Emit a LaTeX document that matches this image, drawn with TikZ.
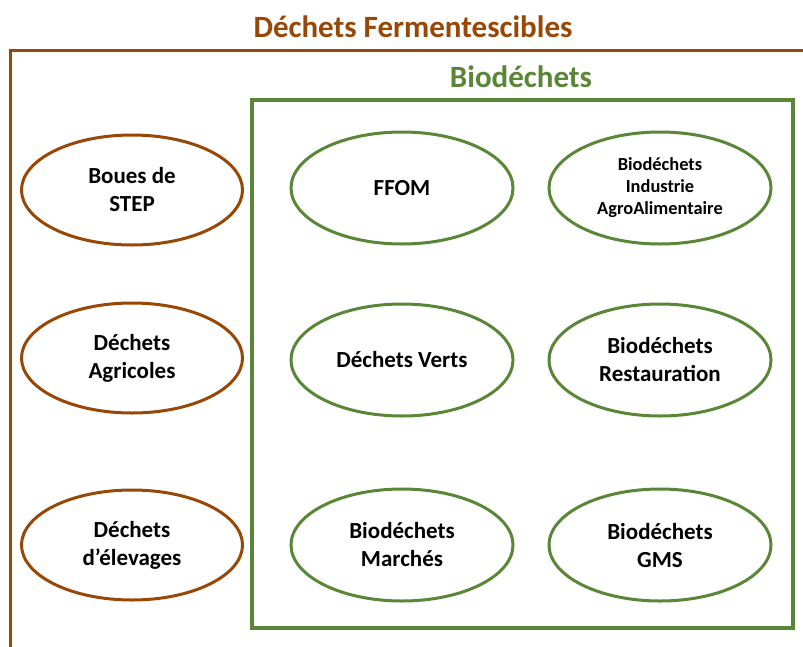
\documentclass[tikz,border=0pt]{standalone}
\usepackage{fontspec}
\setmainfont{Carlito}
\usetikzlibrary{shapes.geometric}
\definecolor{fermbrown}{RGB}{151,71,6}
\definecolor{biogreen}{RGB}{90,135,55}
\begin{document}
\begin{tikzpicture}[x=1pt, y=1pt, node distance=258pt]
  % Define styles
  \tikzstyle{brownell} = [ellipse, draw=fermbrown, line width=3pt, minimum width=221pt, minimum height=110pt, inner sep=0pt, align=center, font=\fontsize{23}{28}\selectfont\bfseries]
  \tikzstyle{greenell} = [brownell, draw=biogreen, minimum width=222pt, minimum height=112pt]
  \tikzstyle{titletext} = [font=\fontsize{31}{34}\selectfont\bfseries]

  \useasboundingbox (0,0) rectangle (803,-646);
  \clip (0,0) rectangle (803,-646);

  % Frames
  \draw [fermbrown, line width=3pt] (815,-50) -- (10,-50) -- (10,-660);
  \draw [biogreen, line width=3.2pt] (252,-100) rectangle (793,-628);
  \node [titletext, text=fermbrown] (ferm) at (413,-27) {Déchets Fermentescibles};
  \node [titletext, text=biogreen] (bio) at (521,-77) {Biodéchets};

  % Left column
  \node [brownell] (boues) at (132,-190) {Boues de\\STEP};
  \node [brownell, below of=boues, node distance=168pt] (agri) {Déchets\\Agricoles};
  \node [brownell, below of=agri, node distance=187pt] (elev) {Déchets\\d’élevages};

  % Middle column
  \node [greenell] (ffom) at (402,-188) {FFOM};
  \node [greenell, below of=ffom, node distance=172pt] (verts) {Déchets Verts};
  \node [greenell, below of=verts, node distance=185pt] (marches) {Biodéchets\\Marchés};

  % Right column
  \node [greenell, right of=ffom, font=\fontsize{18.4}{22}\selectfont\bfseries] (iaa) {Biodéchets\\Industrie\\AgroAlimentaire};
  \node [greenell, right of=verts] (resto) {Biodéchets\\Restauration};
  \node [greenell, right of=marches] (gms) {Biodéchets\\GMS};
\end{tikzpicture}
\end{document}
